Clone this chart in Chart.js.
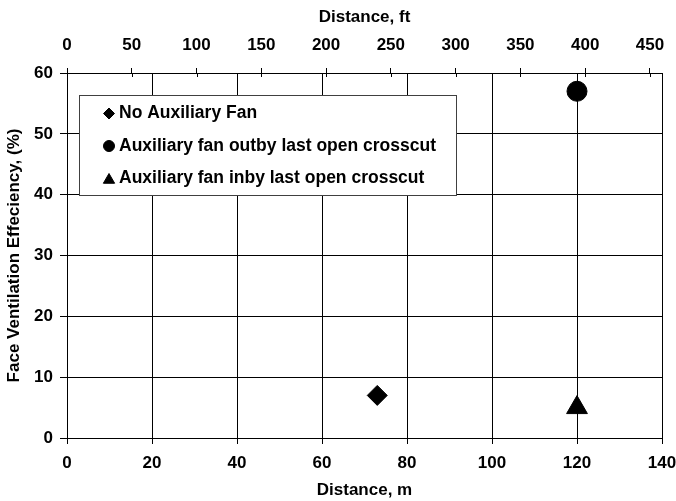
<!DOCTYPE html>
<html>
<head>
<meta charset="utf-8">
<script src="https://cdn.jsdelivr.net/npm/chart.js@4.4.0/dist/chart.umd.min.js"></script>
<style>
html,body{margin:0;padding:0;background:#fff}
#wrap{width:676px;height:501px;position:relative}
</style>
</head>
<body>
<div id="wrap"><canvas id="c" width="676" height="501"></canvas></div>
<script>
// ---- data ----
const seriesLabels = ['No Auxiliary Fan', 'Auxiliary fan outby last open crosscut', 'Auxiliary fan inby last open crosscut'];
const noFanX = [73];
const noFanY = [7];
const outbyX = [120];
const outbyY = [57];
const inbyX = [120];
const inbyY = [5];
const xTicksM = [0, 20, 40, 60, 80, 100, 120, 140];
const xTicksFt = [0, 50, 100, 150, 200, 250, 300, 350, 400, 450];
const yTicks = [0, 10, 20, 30, 40, 50, 60];
const FT_PER_M = 1 / 0.3048;

const FONT = '"Liberation Sans", Arial, Helvetica, sans-serif';
const toPts = (xs, ys) => xs.map((x, i) => ({x: x, y: ys[i]}));
const legendRadius = [5.5, 5.5, 6.5];

const boxLegend = {
  id: 'boxLegend',
  afterDatasetsDraw(chart) {
    const {ctx, chartArea} = chart;
    const bx = Math.round(chartArea.left + 12), by = Math.round(chartArea.top + 22), bw = 377, bh = 100;
    ctx.save();
    ctx.fillStyle = '#fff';
    ctx.fillRect(bx, by, bw, bh);
    ctx.strokeStyle = '#404040';
    ctx.lineWidth = 1;
    ctx.strokeRect(bx + 0.5, by + 0.5, bw, bh);
    ctx.font = 'bold 17.5px ' + FONT;
    ctx.textBaseline = 'middle';
    ctx.textAlign = 'left';
    chart.data.datasets.forEach((ds, i) => {
      const y = by + 18.5 + i * 32.5;
      ctx.fillStyle = '#000';
      ctx.strokeStyle = '#000';
      const dy = ds.pointStyle === 'triangle' ? 1.5 : 0;
      Chart.helpers.drawPoint(ctx, {pointStyle: ds.pointStyle, radius: legendRadius[i], rotation: 0, borderWidth: 1}, bx + 30, y + dy);
      ctx.fillStyle = '#000';
      ctx.fillText(ds.label, bx + 40, y);
    });
    ctx.restore();
  }
};

// inner half of the crossing tick marks on the top (ft) axis
const innerTicks = {
  id: 'innerTicks',
  afterDraw(chart) {
    const s = chart.scales.x2;
    const {ctx} = chart;
    ctx.save();
    ctx.strokeStyle = '#000';
    ctx.lineWidth = 1;
    ctx.beginPath();
    s.ticks.forEach(t => {
      const px = Math.round(s.getPixelForValue(t.value)) + 0.5;
      ctx.moveTo(px, s.bottom);
      ctx.lineTo(px, s.bottom + 4);
    });
    ctx.stroke();
    ctx.restore();
  }
};

const tickFont = {family: FONT, size: 17, weight: 'bold'};
const titleFont = {family: FONT, size: 17, weight: 'bold', lineHeight: 1.2};

new Chart(document.getElementById('c'), {
  type: 'scatter',
  data: {
    datasets: [
      {label: seriesLabels[0], data: toPts(noFanX, noFanY), pointStyle: 'rectRot', pointRadius: 10, backgroundColor: '#000', borderColor: '#000', borderWidth: 1},
      {label: seriesLabels[1], data: toPts(outbyX, outbyY), pointStyle: 'circle', pointRadius: 10, backgroundColor: '#000', borderColor: '#000', borderWidth: 1},
      {label: seriesLabels[2], data: toPts(inbyX, inbyY), pointStyle: 'triangle', pointRadius: 12, backgroundColor: '#000', borderColor: '#000', borderWidth: 1}
    ]
  },
  options: {
    responsive: false,
    animation: false,
    devicePixelRatio: 1,
    layout: {padding: {left: 0, right: 14, top: 0, bottom: 0}},
    plugins: {legend: {display: false}, tooltip: {enabled: false}},
    scales: {
      x: {
        type: 'linear', position: 'bottom', min: 0, max: 140,
        afterBuildTicks: s => { s.ticks = xTicksM.map(v => ({value: v})); },
        afterFit: s => { s.height = 63; s.paddingLeft = 0; s.paddingRight = 0; },
        ticks: {font: tickFont, color: '#000', padding: 9, maxRotation: 0, autoSkip: false},
        grid: {color: '#000', lineWidth: 1, tickLength: 6},
        border: {color: '#000', width: 1},
        title: {display: true, text: 'Distance, m', font: titleFont, color: '#000', padding: {top: 0, bottom: 0}}
      },
      x2: {
        type: 'linear', position: 'top', min: 0, max: 140 * FT_PER_M,
        afterBuildTicks: s => { s.ticks = xTicksFt.map(v => ({value: v})); },
        afterFit: s => { s.height = 73; s.paddingLeft = 0; s.paddingRight = 0; },
        ticks: {font: tickFont, color: '#000', padding: 12, maxRotation: 0, autoSkip: false},
        grid: {drawOnChartArea: false, color: '#000', lineWidth: 1, tickLength: 5},
        border: {color: '#000', width: 1},
        title: {display: true, text: 'Distance, ft', font: titleFont, color: '#000', padding: {top: 7, bottom: 0}}
      },
      y: {
        type: 'linear', position: 'left', min: 0, max: 60,
        afterBuildTicks: s => { s.ticks = yTicks.map(v => ({value: v})); },
        afterFit: s => { s.width = 67; s.paddingTop = 0; s.paddingBottom = 0; },
        ticks: {font: tickFont, color: '#000', padding: 7},
        grid: {color: '#000', lineWidth: 1, tickLength: 7},
        border: {color: '#000', width: 1},
        title: {display: true, text: 'Face Ventilation Effeciency, (%)', font: titleFont, color: '#000', padding: {top: 4, bottom: 0}}
      }
    }
  },
  plugins: [boxLegend, innerTicks]
});
</script>
</body>
</html>
